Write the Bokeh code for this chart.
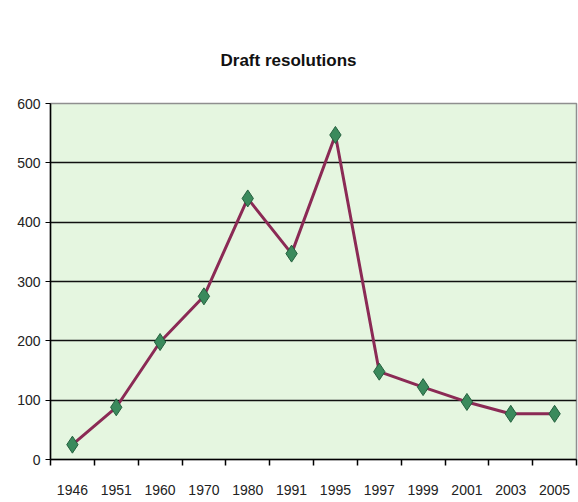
from bokeh.plotting import figure
from bokeh.models import FixedTicker, Range1d
from bokeh.embed import file_html
from bokeh.resources import INLINE

years = ["1946", "1951", "1960", "1970", "1980", "1991", "1995", "1997", "1999", "2001", "2003", "2005"]
values = [25, 88, 198, 275, 440, 347, 547, 148, 122, 97, 77, 77]
y_ticks = [0, 100, 200, 300, 400, 500, 600]

FONT = "'Liberation Sans Narrow', 'Arial Narrow', 'Liberation Sans', Arial, sans-serif"

xs = [i + 0.5 for i in range(len(years))]

p = figure(width=578, height=502, output_backend="svg", toolbar_location=None,
           x_range=Range1d(0, len(years)), y_range=Range1d(0, 600),
           min_border_left=50, min_border_right=2, min_border_bottom=43, min_border_top=103)

p.title.text = "Draft resolutions"
p.title.align = "left"
p.title.vertical_align = "top"
p.title.offset = 170
p.title.standoff = 64
p.title.text_font = FONT
p.title.text_font_size = "17px"
p.title.text_font_style = "bold"
p.title.text_color = "#111111"

p.background_fill_color = "#e5f6e0"
p.border_fill_color = "white"
p.outline_line_color = "#8f8f8f"
p.outline_line_width = 1.5

p.xgrid.grid_line_color = None
p.ygrid.ticker = FixedTicker(ticks=y_ticks[1:-1])
p.ygrid.grid_line_color = "#111111"
p.ygrid.grid_line_width = 1.5

p.yaxis.ticker = FixedTicker(ticks=y_ticks)
p.yaxis.axis_line_color = "black"
p.yaxis.axis_line_width = 1.5
p.yaxis.major_tick_out = 5
p.yaxis.major_tick_in = 0
p.yaxis.minor_tick_line_color = None
p.yaxis.major_label_text_font = FONT
p.yaxis.major_label_text_font_size = "14px"
p.yaxis.major_label_text_color = "#222222"
p.yaxis.major_label_standoff = 5

p.xaxis.ticker = FixedTicker(ticks=xs, minor_ticks=list(range(len(years) + 1)))
p.xaxis.major_label_overrides = {x: y for x, y in zip(xs, years)}
p.xaxis.axis_line_color = "black"
p.xaxis.axis_line_width = 1.5
p.xaxis.major_tick_line_color = None
p.xaxis.major_tick_out = 0
p.xaxis.major_tick_in = 0
p.xaxis.minor_tick_out = 6
p.xaxis.minor_tick_in = 0
p.xaxis.minor_tick_line_color = "black"
p.xaxis.minor_tick_line_width = 1.5
p.xaxis.major_label_text_font = FONT
p.xaxis.major_label_text_font_size = "14px"
p.xaxis.major_label_text_color = "#222222"
p.xaxis.major_label_standoff = 19

p.line(xs, values, line_color="#8b2a55", line_width=3)
p.scatter(xs, values, marker="diamond", size=17, fill_color="#3a8a5c", line_color="#24603e", line_width=1)

open("out.html", "w").write(file_html(p, INLINE))
